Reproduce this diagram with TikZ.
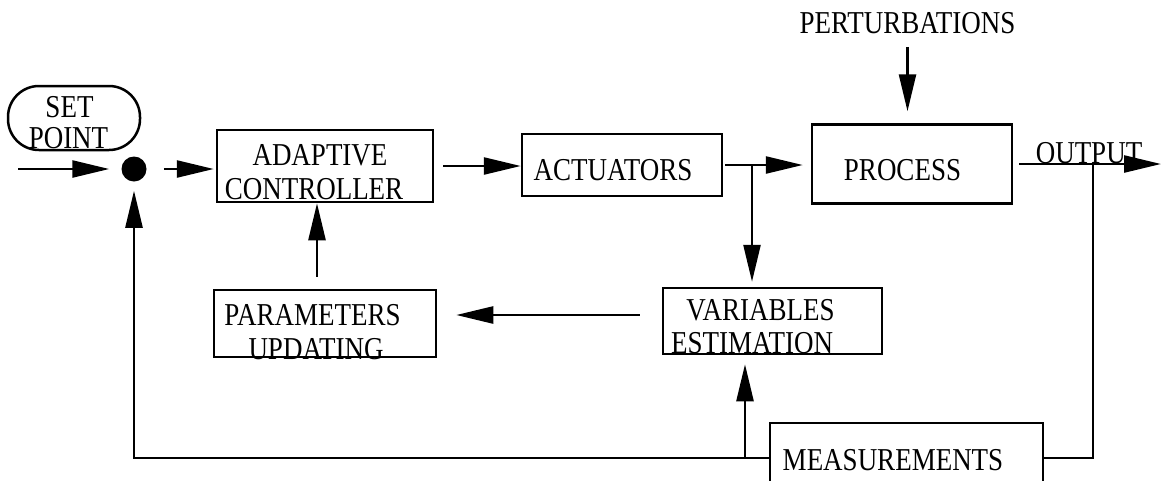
\documentclass[tikz,border=0pt]{standalone}
\usepackage{fontspec}
\setmainfont{Liberation Serif}
\usetikzlibrary{arrows.meta}
\begin{document}
\begin{tikzpicture}[x=1pt,y=-1pt,
  line width=2.5pt,
  box/.style={draw, line width=2.5pt, inner sep=0pt},
  lbl/.style={anchor=base, inner sep=0pt, font=\fontsize{27}{30}\selectfont,
              yscale=1.18, transform shape},
  arr/.style={-{Triangle[length=37pt,width=17pt]}},
]
\useasboundingbox (0,0) rectangle (1162,480);
\fill[white] (0,0) rectangle (1162,480);
\clip (0,0) rectangle (1162,480);

% blocks
\node[box, rounded corners=31pt, minimum width=132pt, minimum height=64pt] (setpt) at (74,118) {};
\node[circle, fill=black, inner sep=0pt, minimum size=25pt] (dot) at (134,169) {};
\node[box, minimum width=216pt, minimum height=72pt] (ctrl) at (325,166) {};
\node[box, minimum width=200pt, minimum height=62pt] (act) at (622,165) {};
\node[box, minimum width=200pt, minimum height=79pt] (proc) at (912,164) {};
\node[box, minimum width=222pt, minimum height=67pt] (params) at (325,323.5) {};
\node[box, minimum width=219pt, minimum height=66pt] (vars) at (772.5,321) {};
\node[box, minimum width=273pt, minimum height=70pt] (meas) at (906.5,458) {};

% labels
\node[lbl] (spA) at (69.5,117) {SET};
\node[lbl] (spB) at (68.5,148) {POINT};
\node[lbl] (ctrlA) at (320,165) {ADAPTIVE};
\node[lbl] (ctrlB) at (314,199) {CONTROLLER};
\node[lbl] (actL) at (613,180) {ACTUATORS};
\node[lbl] (pert) at (907.5,33) {PERTURBATIONS};
\node[lbl] (procL) at (902.5,180) {PROCESS};
\node[lbl] (outL) at (1089,163) {OUTPUT};
\node[lbl] (parA) at (312.5,325) {PARAMETERS};
\node[lbl] (parB) at (316,359) {UPDATING};
\node[lbl] (varA) at (760.5,320) {VARIABLES};
\node[lbl] (varB) at (752,353) {ESTIMATION};
\node[lbl] (measL) at (893,470) {MEASUREMENTS};

% free ends and branch points
\coordinate (in) at (18,169);
\coordinate (outend) at (1161,164);
\coordinate (br) at (752,165);
\coordinate (tap) at (1093,164);
\coordinate (mtap) at (745,458);

% forward path
\draw[arr, shorten >=11pt] (in) -- (dot.west);
\draw[arr, shorten <=16pt, shorten >=2pt] (dot.east) -- (dot.east -| ctrl.west);
\draw[arr, shorten <=9pt] (ctrl.east) -- (ctrl.east -| act.west);
\draw[arr, shorten <=2pt, shorten >=8pt] (act.east) -- (act.east -| proc.west);
\draw[arr, shorten <=12pt, shorten >=12pt] (pert.south) -- (pert.south |- proc.north);
\draw[arr, shorten <=6pt] (proc.east) -- (proc.east -| outend);

% estimation loop
\draw[arr, shorten >=5pt] (br) -- (br |- vars.north);
\draw[arr, shorten <=22pt, shorten >=19pt] ([yshift=6pt]vars.west) -- ([yshift=6pt]vars.west -| params.east);
\draw[arr, shorten <=12pt] ([xshift=-8pt]params.north) -- ([xshift=-8pt]params.north |- ctrl.south);

% measurement feedback
\draw (tap) |- (meas.east);
\draw[arr, shorten >=8pt] (meas.west) -| (dot.south);
\draw[arr, shorten >=9pt] (mtap) -- (mtap |- vars.south);
\end{tikzpicture}
\end{document}
